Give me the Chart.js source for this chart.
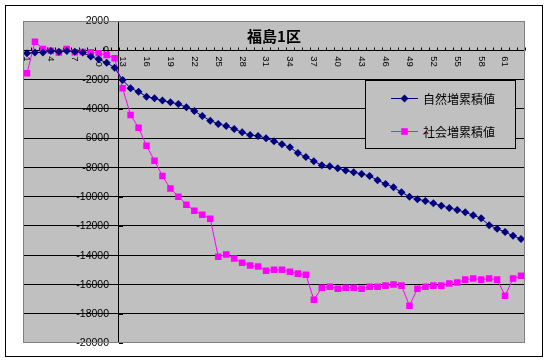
<!DOCTYPE html>
<html>
<head>
<meta charset="utf-8">
<script src="https://cdn.jsdelivr.net/npm/chart.js@4"></script>
<style>
  html, body { margin: 0; padding: 0; background: #fff; }
  #wrap { width: 549px; height: 363px; position: relative; }
</style>
</head>
<body>
<div id="wrap"><canvas id="chart" width="549" height="363"></canvas></div>
<script>
// --- data ---
const categories = ['1','2','3','4','5','6','7','8','9','10','11','12','13','14','15','16','17','18','19','20',
  '21','22','23','24','25','26','27','28','29','30','31','32','33','34','35','36','37','38','39','40',
  '41','42','43','44','45','46','47','48','49','50','51','52','53','54','55','56','57','58','59','60',
  '61','62','63'];

const naturalCum = [-200, -150, -150, -50, -100, -50, -100, -150, -430, -620,
  -850, -1190, -2030, -2600, -2830, -3170, -3280, -3440, -3550, -3670,
  -3890, -4150, -4490, -4810, -5030, -5170, -5380, -5600, -5790, -5850,
  -6010, -6220, -6420, -6630, -7020, -7290, -7580, -7860, -7920, -8060,
  -8220, -8330, -8450, -8590, -8880, -9130, -9360, -9700, -10000, -10180,
  -10290, -10450, -10630, -10770, -10910, -11070, -11270, -11480, -11950, -12200,
  -12410, -12680, -12890];

const socialCum = [-1570, 590, 90, -25, -160, 90, -140, -115, -140, -205,
  -320, -550, -2600, -4420, -5290, -6520, -7540, -8590, -9450, -10000,
  -10550, -10960, -11230, -11505, -14100, -13960, -14235, -14510, -14710, -14780,
  -15060, -14990, -14990, -15130, -15260, -15330, -17040, -16220, -16150, -16290,
  -16220, -16220, -16290, -16150, -16150, -16080, -16010, -16080, -17450, -16290,
  -16150, -16080, -16080, -15940, -15870, -15670, -15600, -15670, -15600, -15670,
  -16770, -15600, -15400];

const seriesNames = ['自然増累積値', '社会増累積値'];
const chartTitle = '福島1区';
const yMin = -20000, yMax = 2000, yStep = 2000;
const xLabelEvery = 3;      // 1, 4, 7, ...
const axisCrossIndex = 12;  // value axis sits before category 13

const NAVY = '#000080';
const PINK = '#FF00FF';
const PLOT_BG = '#C0C0C0';

// draws the Excel-like frame, in-plot labels, title and legend
const excelLook = {
    id: 'excelLook',
    beforeDraw(chart) {
        const { ctx, chartArea: a, scales: { x, y } } = chart;
        ctx.save();
        ctx.fillStyle = '#fff';
        ctx.fillRect(0, 0, chart.width, chart.height);
        ctx.strokeStyle = '#000';
        ctx.lineWidth = 1;
        ctx.strokeRect(5.5, 5.5, 537, 351);
        ctx.fillStyle = PLOT_BG;
        ctx.fillRect(a.left, a.top, a.right - a.left, a.bottom - a.top);

        // value labels, left of the crossing axis (grid lines go over them later)
        const axisX = Math.round((x.getPixelForValue(axisCrossIndex - 1) + x.getPixelForValue(axisCrossIndex)) / 2);
        ctx.fillStyle = '#000';
        ctx.font = "10.5px 'Liberation Sans', Arial, sans-serif";
        ctx.textAlign = 'right';
        ctx.textBaseline = 'middle';
        y.ticks.forEach(t => {
            ctx.fillText(String(t.value), axisX - 10, y.getPixelForValue(t.value) + 0.5);
        });

        // category labels, rotated, just below the zero line
        const zeroY = y.getPixelForValue(0);
        ctx.font = "9.5px 'Liberation Sans', Arial, sans-serif";
        ctx.textAlign = 'left';
        categories.forEach((c, i) => {
            if (i % xLabelEvery !== 0) return;
            ctx.save();
            ctx.translate(x.getPixelForValue(i), zeroY + 6);
            ctx.rotate(Math.PI / 2);
            ctx.fillText(c, 0, 0);
            ctx.restore();
        });

        // title
        ctx.font = "bold 15px 'Noto Sans CJK JP', sans-serif";
        ctx.textAlign = 'center';
        ctx.fillText(chartTitle, (a.left + a.right) / 2, 36);
        ctx.restore();
    },
    beforeDatasetsDraw(chart) {
        const { ctx, scales: { x, y } } = chart;
        const zeroY = Math.round(y.getPixelForValue(0)) + 0.5;
        const step = (x.getPixelForValue(1) - x.getPixelForValue(0));
        ctx.save();
        ctx.strokeStyle = '#000';
        ctx.lineWidth = 1;
        ctx.beginPath();
        for (let i = 0; i <= categories.length; i++) {
            const px = Math.round(x.getPixelForValue(0) - step / 2 + i * step) + 0.5;
            ctx.moveTo(px, zeroY);
            ctx.lineTo(px, zeroY - 3);
        }
        // small ticks on the value axis
        const axisX = Math.round((x.getPixelForValue(axisCrossIndex - 1) + x.getPixelForValue(axisCrossIndex)) / 2);
        y.ticks.forEach(t => {
            const py = Math.round(y.getPixelForValue(t.value)) + 0.5;
            ctx.moveTo(axisX, py);
            ctx.lineTo(axisX + 4, py);
        });
        ctx.stroke();
        ctx.restore();
    },
    afterDraw(chart) {
        const { ctx, chartArea: a } = chart;
        ctx.save();
        ctx.strokeStyle = '#808080';
        ctx.lineWidth = 1;
        ctx.strokeRect(a.left + 0.5, a.top + 0.5, a.right - a.left - 1, a.bottom - a.top - 1);

        // legend box
        const lx = 365, ly = 80, lw = 150, lh = 68;
        ctx.fillStyle = PLOT_BG;
        ctx.fillRect(lx, ly, lw, lh);
        ctx.strokeStyle = '#000';
        ctx.strokeRect(lx + 0.5, ly + 0.5, lw, lh);

        const items = [
            { name: seriesNames[0], color: NAVY, style: 'diamond', cy: 98 },
            { name: seriesNames[1], color: PINK, style: 'square', cy: 131 }
        ];
        items.forEach(it => {
            ctx.strokeStyle = it.color;
            ctx.fillStyle = it.color;
            ctx.beginPath();
            ctx.moveTo(391, it.cy + 0.5);
            ctx.lineTo(418, it.cy + 0.5);
            ctx.stroke();
            const mx = 404.5, my = it.cy + 0.5;
            ctx.beginPath();
            if (it.style === 'diamond') {
                ctx.moveTo(mx, my - 4); ctx.lineTo(mx + 4, my); ctx.lineTo(mx, my + 4); ctx.lineTo(mx - 4, my);
                ctx.closePath();
            } else {
                ctx.rect(mx - 3.3, my - 3.3, 6.6, 6.6);
            }
            ctx.fill();
            ctx.fillStyle = '#000';
            ctx.font = "12px 'Noto Sans CJK JP', sans-serif";
            ctx.textAlign = 'left';
            ctx.textBaseline = 'middle';
            ctx.fillText(it.name, 423, it.cy + 1);
        });
        ctx.restore();
    }
};

new Chart(document.getElementById('chart'), {
    type: 'line',
    data: {
        labels: categories,
        datasets: [{
            label: seriesNames[0],
            data: naturalCum,
            borderColor: NAVY,
            backgroundColor: NAVY,
            borderWidth: 1,
            pointStyle: 'rectRot',
            pointRadius: 4,
            pointBorderWidth: 0,
            tension: 0
        }, {
            label: seriesNames[1],
            data: socialCum,
            borderColor: PINK,
            backgroundColor: PINK,
            borderWidth: 1,
            pointStyle: 'rect',
            pointRadius: 4.6,
            pointBorderWidth: 0,
            tension: 0
        }]
    },
    options: {
        responsive: false,
        animation: false,
        devicePixelRatio: 1,
        layout: { padding: { left: 23, right: 24, top: 21, bottom: 20 } },
        plugins: { legend: { display: false }, title: { display: false }, tooltip: { enabled: false } },
        scales: {
            x: {
                offset: true,
                ticks: { display: false },
                border: { display: false },
                grid: {
                    offset: true,
                    drawTicks: false,
                    color: c => c.index === axisCrossIndex ? '#000' : 'rgba(0,0,0,0)'
                }
            },
            y: {
                min: yMin,
                max: yMax,
                ticks: { display: false, stepSize: yStep },
                border: { display: false },
                grid: {
                    drawTicks: false,
                    color: c => (c.tick && (c.tick.value === yMin || c.tick.value === yMax)) ? 'rgba(0,0,0,0)' : '#000'
                }
            }
        }
    },
    plugins: [excelLook]
});
</script>
</body>
</html>
